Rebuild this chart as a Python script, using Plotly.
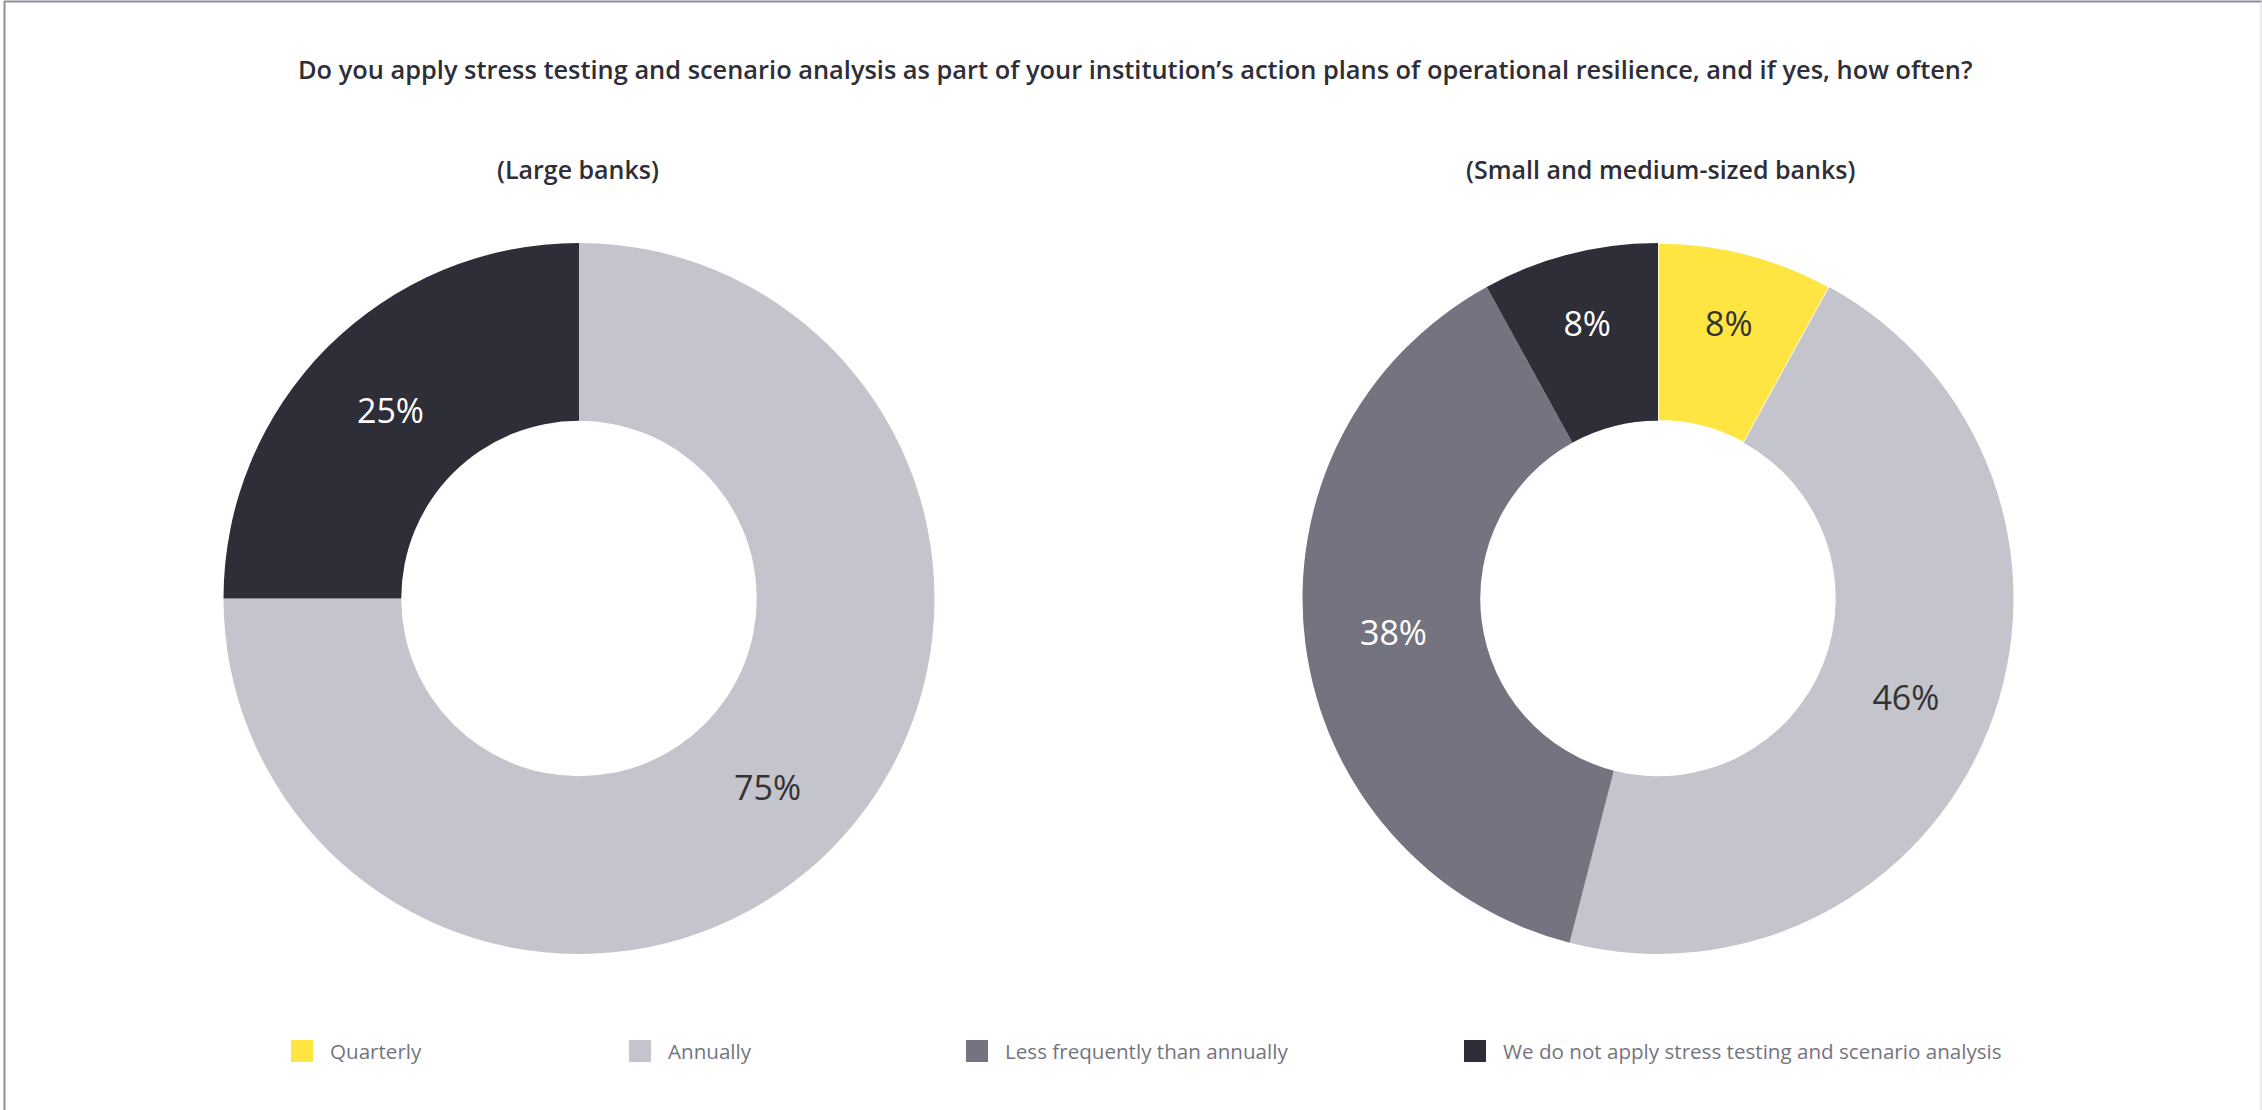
import plotly.graph_objects as go

# Survey answers (share of respondents, %)
categories = [
    "Quarterly",
    "Annually",
    "Less frequently than annually",
    "We do not apply stress testing and scenario analysis",
]
large_banks = [0, 75, 0, 25]
small_medium_banks = [8, 46, 38, 8]

title_text = ("Do you apply stress testing and scenario analysis as part of your "
              "institution\u2019s action plans of operational resilience, and if yes, how often?")
panel_titles = ["(Large banks)", "(Small and medium-sized banks)"]

colors = ["#FFE541", "#C4C4CD", "#747480", "#2E2E38"]
label_colors = ["#333333", "#333333", "#FFFFFF", "#FFFFFF"]
# only the yellow slice carries a thin white outline
outline_widths = [1.5, 0, 0, 0]

W, H = 2262, 1110
FONT = "Open Sans"


def px_x(v):
    return v / W


def px_y(v):
    return 1 - v / H


def donut(values, cx):
    # drop empty categories so no zero-width slice gets a label
    keep = [i for i, v in enumerate(values) if v > 0]
    r = 355.5
    cy = 598.5
    return go.Pie(
        labels=[categories[i] for i in keep],
        values=[values[i] for i in keep],
        marker=dict(colors=[colors[i] for i in keep],
                    line=dict(color="#FFFFFF", width=[outline_widths[i] for i in keep])),
        textfont=dict(color=[label_colors[i] for i in keep], family=FONT, size=34),
        texttemplate="%{value}%",
        textposition="inside",
        insidetextorientation="horizontal",
        hole=0.5,
        sort=False,
        direction="clockwise",
        rotation=0,
        showlegend=False,
        hoverinfo="label+value",
        domain=dict(x=[px_x(cx - r), px_x(cx + r)], y=[px_y(cy + r), px_y(cy - r)]),
    )


fig = go.Figure()
fig.add_trace(donut(large_banks, 579))
fig.add_trace(donut(small_medium_banks, 1658))

annotations = [
    dict(text=title_text, x=px_x(1135), y=px_y(69), xref="paper", yref="paper",
         showarrow=False, xanchor="center", yanchor="middle",
         font=dict(family=FONT, size=25.4, color="#2E2E38", weight=600)),
]
for t, cx in zip(panel_titles, [578, 1660]):
    annotations.append(dict(text=t, x=px_x(cx), y=px_y(169), xref="paper", yref="paper",
                            showarrow=False, xanchor="center", yanchor="middle",
                            font=dict(family=FONT, size=25, color="#2E2E38", weight=600)))

# legend row: coloured squares with category names
legend_x = [291, 629, 966, 1464]
sw, ly = 22, 1051
shapes = []
for name, col, lx in zip(categories, colors, legend_x):
    shapes.append(dict(type="rect", xref="paper", yref="paper",
                       x0=px_x(lx), x1=px_x(lx + sw), y0=px_y(ly + sw / 2), y1=px_y(ly - sw / 2),
                       fillcolor=col, line=dict(width=0)))
    annotations.append(dict(text=name, x=px_x(lx + 37), y=px_y(ly), xref="paper", yref="paper",
                            showarrow=False, xanchor="left", yanchor="middle",
                            font=dict(family=FONT, size=20.6, color="#747480")))

# frame on top, left and right
frame = "#8E8E9C"
shapes += [
    dict(type="line", xref="paper", yref="paper", x0=px_x(4), x1=1, y0=px_y(1.5), y1=px_y(1.5),
         line=dict(color=frame, width=2)),
    dict(type="line", xref="paper", yref="paper", x0=px_x(4.5), x1=px_x(4.5), y0=0, y1=px_y(1),
         line=dict(color=frame, width=2)),
    dict(type="line", xref="paper", yref="paper", x0=px_x(2261), x1=px_x(2261), y0=0, y1=px_y(1),
         line=dict(color="#D8D8DE", width=1)),
]

fig.update_layout(
    width=W, height=H,
    margin=dict(l=0, r=0, t=0, b=0),
    paper_bgcolor="#FFFFFF",
    plot_bgcolor="#FFFFFF",
    annotations=annotations,
    shapes=shapes,
    font=dict(family=FONT),
)

fig.write_html("out.html")
